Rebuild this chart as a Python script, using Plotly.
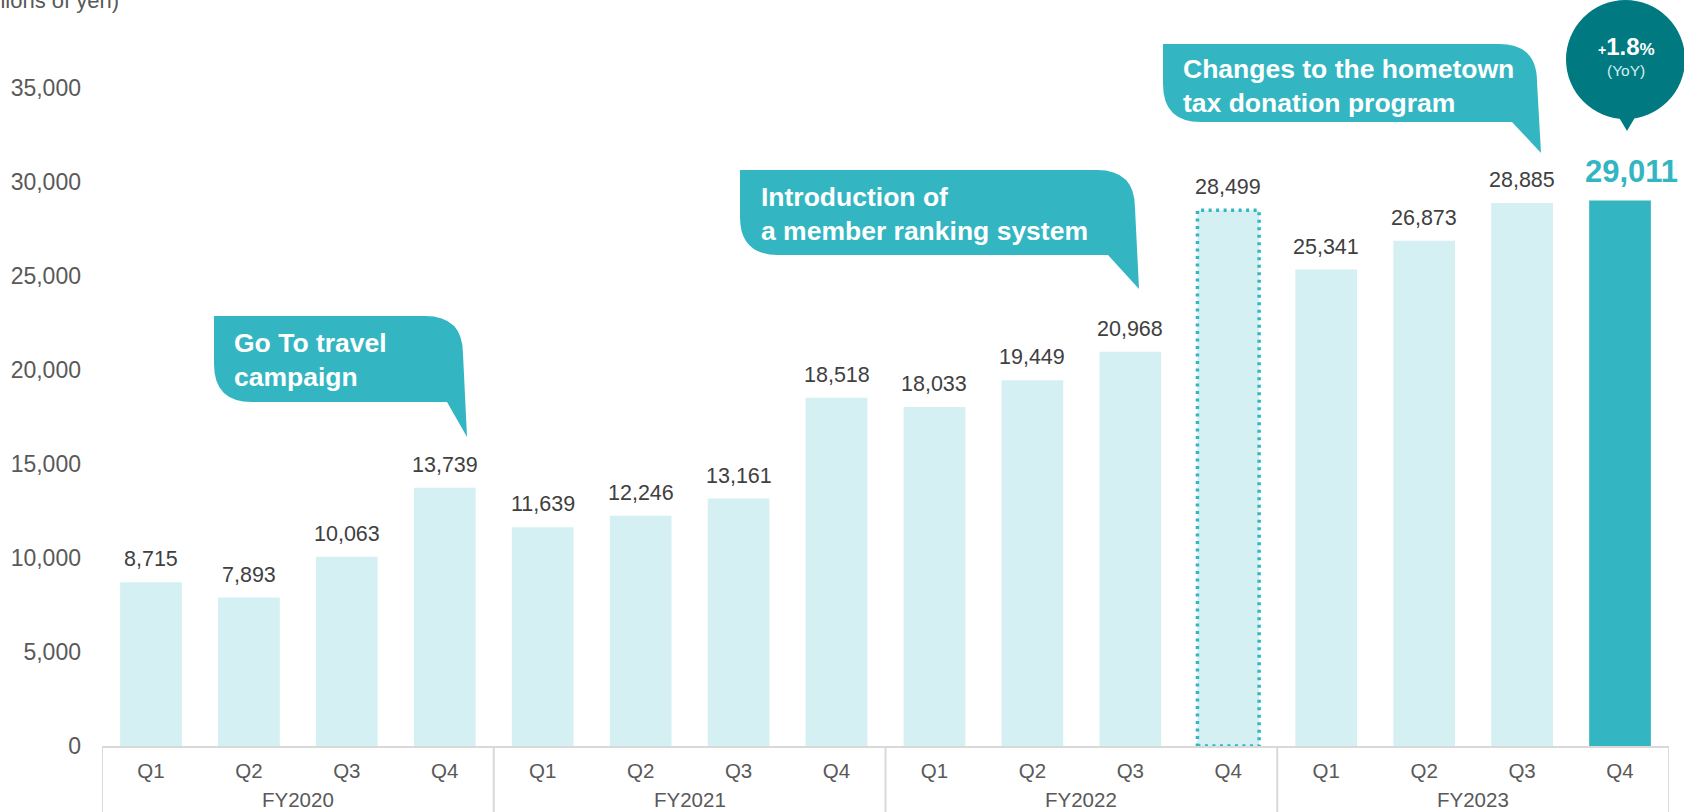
import plotly.graph_objects as go

# ---------------- data ----------------
fiscal_years = ["FY2020"] * 4 + ["FY2021"] * 4 + ["FY2022"] * 4 + ["FY2023"] * 4
quarters = ["Q1", "Q2", "Q3", "Q4"] * 4
values = [8715, 7893, 10063, 13739, 11639, 12246, 13161, 18518,
          18033, 19449, 20968, 28499, 25341, 26873, 28885, 29011]
y_ticks = [0, 5000, 10000, 15000, 20000, 25000, 30000, 35000]
unit_label = "(Millions of yen)"
callouts = [
    ("Go To travel", "campaign"),
    ("Introduction of", "a member ranking system"),
    ("Changes to the hometown", "tax donation program"),
]
highlight_prev_index = 11   # FY2022 Q4 (dotted comparison bar)

# ---------------- style ----------------
FONT = "Liberation Sans, Arial, sans-serif"
LIGHT = "#D4F0F3"
TEAL = "#33B6C2"
DARK = "#007A80"
TICK_COL = "#595959"
VAL_COL = "#404040"
AXIS_COL = "#D9D9D9"

W_FIG, H_FIG = 1684, 812
L, R, T, B = 102, 1669, 88, 746
PW, PH = R - L, B - T


def px(x):
    return (x - L) / PW


def py(y):
    return (B - y) / PH


n = len(values)
idx = list(range(n))
colors = [LIGHT] * (n - 1) + [TEAL]
bw = 0.63

fig = go.Figure()
fig.add_trace(go.Bar(
    x=idx, y=values, width=bw,
    marker=dict(color=colors, line=dict(width=0)),
    hoverinfo="skip",
))

annotations = []
shapes = []

# value labels
for i, v in enumerate(values):
    last = i == n - 1
    annotations.append(dict(
        x=i, y=v, xref="x", yref="y",
        text=(f"<b>{v:,}</b>" if last else f"{v:,}"),
        showarrow=False, yanchor="middle",
        yshift=29 if last else 23,
        xshift=11 if last else 0,
        font=dict(family=FONT, size=31 if last else 21.5,
                  color=TEAL if last else VAL_COL),
    ))

# fiscal-year group labels and dividers
groups = []
for i, fy in enumerate(fiscal_years):
    if not groups or groups[-1][0] != fy:
        groups.append([fy, i, i])
    else:
        groups[-1][2] = i
for fy, a, b in groups:
    annotations.append(dict(
        x=(a + b) / 2, y=py(799), xref="x", yref="paper",
        text=fy, showarrow=False, yanchor="middle",
        font=dict(family=FONT, size=20.5, color=TICK_COL),
    ))
bounds = [g[1] - 0.5 for g in groups] + [groups[-1][2] + 0.5]
for xb in bounds:
    shapes.append(dict(type="line", xref="x", yref="paper",
                       x0=xb, x1=xb, y0=0, y1=py(H_FIG + 2),
                       line=dict(color=AXIS_COL, width=2), layer="below"))

# dotted outline around previous-year Q4 bar
shapes.append(dict(
    type="rect", xref="x", yref="y",
    x0=highlight_prev_index - bw / 2, x1=highlight_prev_index + bw / 2,
    y0=0, y1=values[highlight_prev_index],
    line=dict(color=TEAL, width=3.5, dash="3px,4.5px"),
    fillcolor="rgba(0,0,0,0)", layer="above",
))


def bubble(left, top, right, bottom, tail_start, tip_x, tip_y, r=38):
    pts = [
        f"M {px(left)},{py(top)}",
        f"L {px(right - r)},{py(top)}",
        f"Q {px(right)},{py(top)} {px(right)},{py(top + r)}",
        f"L {px(tip_x)},{py(tip_y)}",
        f"L {px(tail_start)},{py(bottom)}",
        f"L {px(left + r)},{py(bottom)}",
        f"Q {px(left)},{py(bottom)} {px(left)},{py(bottom - r)}",
        "Z",
    ]
    return dict(type="path", xref="paper", yref="paper", path=" ".join(pts),
                fillcolor=TEAL, line=dict(width=0), layer="above")


bubble_geo = [
    # left, top, right, bottom, tail_start, tip_x, tip_y, text_left, text_mid
    (214, 316, 463, 402, 447, 467, 437, 232, 360),
    (740, 170, 1135, 255, 1108, 1139, 289, 759, 214),
    (1163, 44, 1537, 122, 1512, 1541, 153, 1181, 86),
]
for (l1, l2), g in zip(callouts, bubble_geo):
    shapes.append(bubble(*g[:7]))
    annotations.append(dict(
        x=px(g[7]), y=py(g[8]), xref="paper", yref="paper",
        xanchor="left", yanchor="middle", align="left", showarrow=False,
        text=f"<b>{l1}<br>{l2}</b>",
        font=dict(family=FONT, size=26.5, color="white"),
    ))

# YoY badge
shapes.append(dict(type="circle", xref="paper", yref="paper",
                   x0=px(1566), x1=px(1685), y0=py(119), y1=py(0),
                   fillcolor=DARK, line=dict(width=0), layer="above"))
shapes.append(dict(type="path", xref="paper", yref="paper",
                   path=f"M {px(1617)},{py(114)} L {px(1637)},{py(114)} L {px(1627)},{py(131)} Z",
                   fillcolor=DARK, line=dict(width=0), layer="above"))
annotations.append(dict(
    x=px(1626), y=py(46), xref="paper", yref="paper", showarrow=False,
    xanchor="center", yanchor="middle",
    text=("<b><span style='font-size:14px'>+</span>1.8"
          "<span style='font-size:17px'>%</span></b>"),
    font=dict(family=FONT, size=24, color="white"),
))
annotations.append(dict(
    x=px(1626), y=py(71), xref="paper", yref="paper", showarrow=False,
    xanchor="center", yanchor="middle", text="(YoY)",
    font=dict(family=FONT, size=15.5, color="#D6EEF0"),
))

# unit label (partly cut at the top edge)
annotations.append(dict(
    x=px(121), y=py(15), xref="paper", yref="paper", showarrow=False,
    xanchor="right", yanchor="bottom", text=unit_label,
    font=dict(family=FONT, size=22, color=TICK_COL),
))

fig.update_layout(
    width=W_FIG, height=H_FIG,
    margin=dict(l=L, r=W_FIG - R, t=T, b=H_FIG - B, pad=0),
    paper_bgcolor="white", plot_bgcolor="white",
    showlegend=False,
    annotations=annotations, shapes=shapes,
    font=dict(family=FONT),
)
fig.update_yaxes(
    range=[0, 35000], tickvals=y_ticks, tickformat=",",
    showgrid=False, zeroline=False, showline=False, ticks="",
    tickfont=dict(family=FONT, size=23, color=TICK_COL),
    ticklabelstandoff=20,
)
fig.update_xaxes(
    range=[-0.5, n - 0.5], tickvals=idx, ticktext=quarters,
    showgrid=False, zeroline=False, showline=True,
    linecolor=AXIS_COL, linewidth=2, ticks="",
    tickfont=dict(family=FONT, size=20.5, color=TICK_COL),
    ticklabelstandoff=5,
)

fig.write_html("out.html")
